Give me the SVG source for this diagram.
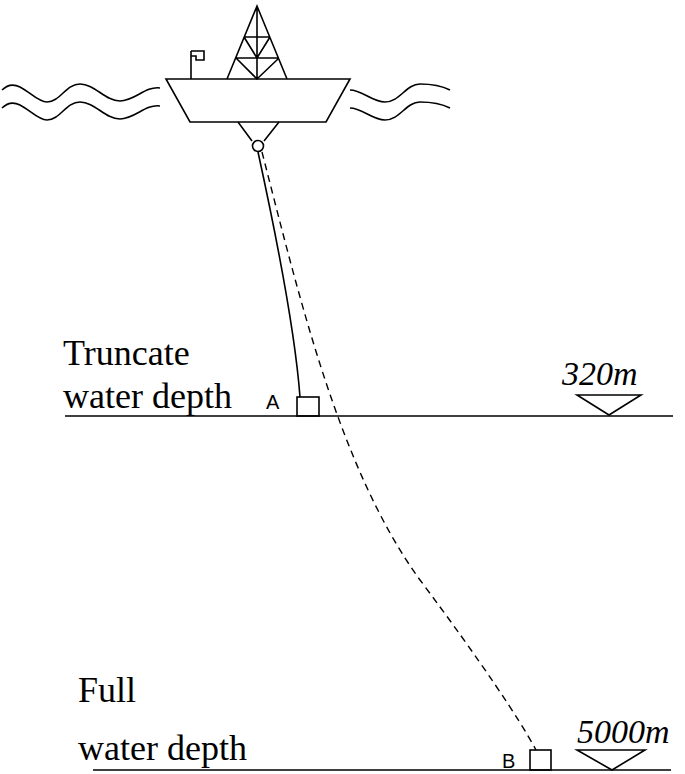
<svg xmlns="http://www.w3.org/2000/svg" width="685" height="774" viewBox="0 0 685 774">
<style>
.s{fill:none;stroke:#000;stroke-width:1.6}
.d{fill:none;stroke:#000;stroke-width:1.4;stroke-dasharray:7,5}
.t{font-family:"Liberation Serif",serif;font-size:36px}
.i{font-family:"Liberation Serif",serif;font-size:34px;font-style:italic}
.a{font-family:"Liberation Sans",sans-serif;font-size:20px}
</style>
<rect width="685" height="774" fill="#fff"/>
<g id="platform" class="s">
<path d="M166,79 H350 L326,122 H190 Z"/>
<path d="M227,79 L257,6 L287,79 M257,6 V79 M244,37 H270 M236,58 H279 M236,58 L257,79 L279,58 M244,37 L257,58 L270,37"/>
<path d="M191,79 V51 M191,51 H204 V60 H196 V56 H191"/>
<path d="M238,122 L252,141 M279,122 L264,141"/>
<circle cx="258" cy="146" r="5.5"/>
</g>
<g id="waves" class="s">
<path d="M2,90 C8,84 14,84 20,87 C30,92 38,102 47,102 C60,102 66,84 80,84 C95,84 105,101 120,101 C135,101 145,86 160,88"/>
<path d="M2,108 C8,102 14,102 20,105 C30,110 38,120 47,120 C60,120 66,102 80,102 C95,102 105,119 120,119 C135,119 145,104 160,106"/>
<path d="M350,90 C362,90 372,102 385,102 C400,102 406,84 420,84 C432,84 442,86 450,90"/>
<path d="M350,108 C362,108 372,120 385,120 C400,120 406,102 420,102 C432,102 442,104 450,108"/>
</g>
<g id="connectors">
<path class="s" d="M258,152 C275,230 295,330 300,397"/>
<path class="d" d="M262,152 C300,300 340,470 420,580 C480,660 520,720 536,750"/>
</g>
<g id="truncate">
<line class="s" x1="65" y1="416" x2="673" y2="416"/>
<rect class="s" x="297" y="397" width="22" height="19"/>
<path class="s" d="M577,395 H641 L609,415 Z"/>
<text class="t" x="63" y="365">Truncate</text>
<text class="t" x="63" y="408">water depth</text>
<text class="a" x="266" y="409">A</text>
<text class="i" x="562" y="385">320m</text>
</g>
<g id="full">
<line class="s" x1="93" y1="770" x2="671" y2="770"/>
<rect class="s" x="530" y="750" width="21" height="20"/>
<path class="s" d="M577,750 H645 L612,770 Z"/>
<text class="t" x="78" y="702">Full</text>
<text class="t" x="78" y="760">water depth</text>
<text class="a" x="502" y="768">B</text>
<text class="i" x="577" y="743">5000m</text>
</g>
</svg>
